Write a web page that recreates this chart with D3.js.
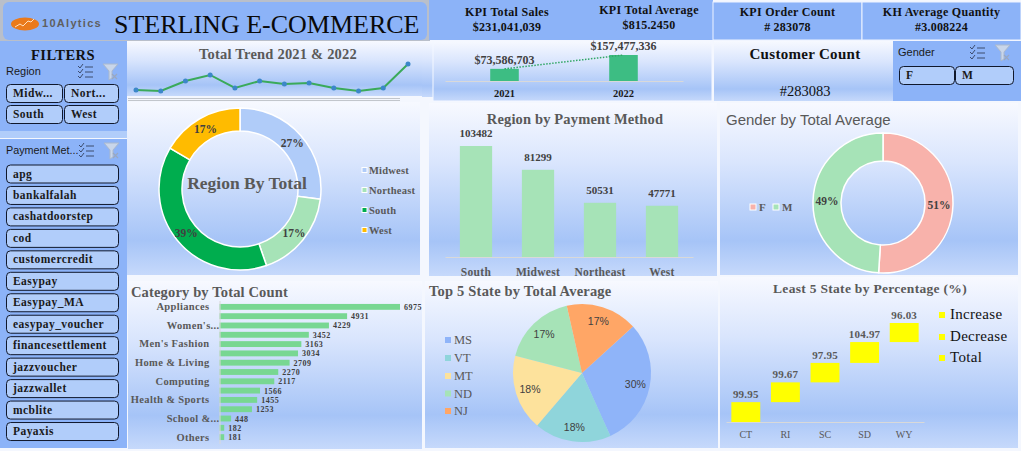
<!DOCTYPE html>
<html>
<head>
<meta charset="utf-8">
<title>Sterling E-Commerce</title>
<script src="https://cdn.jsdelivr.net/npm/d3@7"></script>
<style>
  html, body { margin: 0; padding: 0; background: #f4f7fe; overflow: hidden; }
  svg { display: block; }
  text { font-family: "Liberation Serif", serif; }
  .sans { font-family: "Liberation Sans", Arial, sans-serif; }
</style>
</head>
<body>
<div id="chart"></div>
<script>
'use strict';

// data
var kpiLabels = [ 'KPI Total Sales', 'KPI Total Average', 'KPI Order Count', 'KH Average Quantity' ];
var kpiValues = [ '$231,041,039', '$815.2450', '# 283078', '#3.008224' ];

var trendValues = [ 11.3, 10.0, 22.6, 30.2, 13.8, 22.6, 18.8, 20.1, 13.8, 10.0, 13.8, 44.0 ];

var yearLabels = [ '2021', '2022' ];
var yearValues = [ 73586703, 157477336 ];
var yearText = [ '$73,586,703', '$157,477,336' ];

var regionNames = [ 'Midwest', 'Northeast', 'South', 'West' ];
var regionShares = [ 27, 17.7, 38.7, 16.6 ];
var regionShareText = [ '27%', '17%', '39%', '17%' ];
var regionColors = [ '#b0ccf9', '#a6e3b7', '#00ad4e', '#ffbb00' ];

var paymentRegions = [ 'South', 'Midwest', 'Northeast', 'West' ];
var paymentValues = [ 103482, 81299, 50531, 47771 ];

var genderNames = [ 'F', 'M' ];
var genderShares = [ 51, 49 ];
var genderColors = [ '#f8b2ab', '#a6e3b7' ];

// the chart only prints every second category name
var categoryLabels = [ 'Appliances', '', 'Women\'s...', '', 'Men\'s Fashion', '', 'Home & Living', '',
  'Computing', '', 'Health & Sports', '', 'School &...', '', 'Others' ];
var categoryValues = [ 6975, 4931, 4229, 3452, 3163, 3034, 2709, 2270, 2117, 1566, 1455, 1253, 448, 182, 181 ];

var stateNames = [ 'MS', 'VT', 'MT', 'ND', 'NJ' ];
var stateShares = [ 30, 18, 17.8, 17.4, 16.8 ];
var stateShareText = [ '30%', '18%', '18%', '17%', '17%' ];
var stateColors = [ '#8fb4f9', '#8fd5db', '#fde29c', '#a6e3b7', '#ffa666' ];

var leastStates = [ 'CT', 'RI', 'SC', 'SD', 'WY' ];
var leastValues = [ 99.95, 99.67, 97.95, 104.97, 96.03 ];
var leastLegend = [ 'Increase', 'Decrease', 'Total' ];

var regionButtons = [ 'Midw...', 'Nort...', 'South', 'West' ];
var paymentButtons = [ 'apg', 'bankalfalah', 'cashatdoorstep', 'cod', 'customercredit', 'Easypay', 'Easypay_MA',
  'easypay_voucher', 'financesettlement', 'jazzvoucher', 'jazzwallet', 'mcblite', 'Payaxis' ];

var slicerBlue = '#8cb3f8',
    buttonBlue = '#b1cdfa',
    labelGray = '#595959';

var svg = d3.select( '#chart' )
  .append( 'svg' )
    .attr( 'width', 1021 )
    .attr( 'height', 451 );

var grad = svg.append( 'defs' )
  .append( 'linearGradient' )
    .attr( 'id', 'panelFill' )
    .attr( 'x1', 0 ).attr( 'y1', 0 )
    .attr( 'x2', 0 ).attr( 'y2', 1 );
grad.selectAll( 'stop' )
  .data( [ [ 0, '#f7f9ff' ], [ .35, '#d9e5fd' ], [ .8, '#a6c4f7' ], [ 1, '#c6d9fb' ] ] )
  .enter().append( 'stop' )
    .attr( 'offset', function( d ) { return d[0]; } )
    .attr( 'stop-color', function( d ) { return d[1]; } );

function panel( x, y, w, h, stroke ) {
  return svg.append( 'rect' )
    .attr( 'x', x ).attr( 'y', y )
    .attr( 'width', w ).attr( 'height', h )
    .attr( 'fill', 'url(#panelFill)' )
    .attr( 'stroke', stroke || 'none' );
}

function label( x, y, str, size, opts ) {
  opts = opts || {};
  return svg.append( 'text' )
    .attr( 'class', opts.sans ? 'sans' : null )
    .attr( 'x', x ).attr( 'y', y )
    .attr( 'text-anchor', opts.anchor || 'start' )
    .attr( 'font-size', size )
    .attr( 'font-weight', opts.weight || 'bold' )
    .attr( 'letter-spacing', opts.spacing || 0 )
    .attr( 'fill', opts.fill || labelGray )
    .text( str );
}

function button( x, y, w, h, str ) {
  svg.append( 'rect' )
    .attr( 'x', x + .5 ).attr( 'y', y + .5 )
    .attr( 'width', w ).attr( 'height', h )
    .attr( 'rx', 4 )
    .attr( 'fill', buttonBlue )
    .attr( 'stroke', '#10182c' );
  label( x + 7, y + h / 2 + 4, str, 11.5, { fill: '#1a1a1a', spacing: .45 } );
}

// little "select all" and "clear filter" glyphs of a slicer header
function slicerIcons( x, y ) {
  var g = svg.append( 'g' )
    .attr( 'transform', 'translate(' + x + ',' + y + ')' )
    .attr( 'fill', 'none' )
    .attr( 'stroke', '#33415e' )
    .attr( 'stroke-width', .9 );
  [ 1, 6, 11 ].forEach( function( dy ) {
    g.append( 'path' ).attr( 'd', 'M0 ' + dy + 'l2 2l3 -4' );
    g.append( 'path' ).attr( 'd', 'M7 ' + ( dy + 1 ) + 'h8' );
  } );
  svg.append( 'path' )
    .attr( 'transform', 'translate(' + ( x + 25 ) + ',' + y + ')' )
    .attr( 'd', 'M0 -1h15l-6 7v7l-3 2v-9z' )
    .attr( 'fill', '#c9d6ea' )
    .attr( 'stroke', '#aab8ce' );
  svg.append( 'path' )
    .attr( 'transform', 'translate(' + ( x + 25 ) + ',' + y + ')' )
    .attr( 'd', 'M9 9l5 5M14 9l-5 5' )
    .attr( 'stroke', '#9aa8c0' )
    .attr( 'stroke-width', 1.2 );
}

function legendDots( names, colors, xs, ys, size, opts ) {
  names.forEach( function( name, i ) {
    svg.append( 'rect' )
      .attr( 'x', xs[i] ).attr( 'y', ys[i] - size / 2 )
      .attr( 'width', size ).attr( 'height', size )
      .attr( 'fill', colors[i] )
      .attr( 'stroke', opts.stroke || 'none' );
    label( xs[i] + size + ( opts.gap || 2 ), ys[i] + 4, name, opts.size, opts );
  } );
}

// -- header and KPI tiles
svg.append( 'rect' ).attr( 'width', 430 ).attr( 'height', 42 ).attr( 'fill', '#b9bfca' );
svg.append( 'rect' )
  .attr( 'x', 3 ).attr( 'y', 2 )
  .attr( 'width', 424 ).attr( 'height', 38 )
  .attr( 'rx', 6 )
  .attr( 'fill', slicerBlue );
svg.append( 'ellipse' )
  .attr( 'cx', 25 ).attr( 'cy', 24 )
  .attr( 'rx', 14 ).attr( 'ry', 6.5 )
  .attr( 'fill', '#ea7a1c' );
svg.append( 'path' )
  .attr( 'd', 'M15 27l5 -3l3 2l5 -5l3 1l3 -3' )
  .attr( 'fill', 'none' )
  .attr( 'stroke', '#ffe1c2' )
  .attr( 'stroke-width', 1 );
label( 42, 27, '10Alytics', 11, { sans: true, fill: '#5f5f5f', spacing: 1.3 } );
label( 114, 33, 'STERLING E-COMMERCE', 26, { weight: 'normal', fill: '#0a0a0a' } );

var kpiBoxes = [ [ 429, 0, 156, 40 ], [ 585, 0, 128, 40 ], [ 713, 2, 149, 38 ], [ 862, 2, 159, 38 ] ];
kpiBoxes.forEach( function( b, i ) {
  svg.append( 'rect' )
    .attr( 'x', b[0] ).attr( 'y', b[1] )
    .attr( 'width', b[2] ).attr( 'height', b[3] )
    .attr( 'fill', slicerBlue )
    .attr( 'stroke', i < 2 ? 'none' : '#eef3ff' );
  var cx = b[0] + b[2] / 2;
  label( cx, i === 1 ? 14 : 16, kpiLabels[i], 12, { anchor: 'middle', fill: '#111', spacing: .3 } );
  label( cx, i === 1 ? 29 : 31, kpiValues[i], 12, { anchor: 'middle', fill: '#111', spacing: .2 } );
} );

// -- filters column
svg.append( 'rect' ).attr( 'x', 0 ).attr( 'y', 41 ).attr( 'width', 127 ).attr( 'height', 90 ).attr( 'fill', slicerBlue );
svg.append( 'rect' ).attr( 'x', 0 ).attr( 'y', 131 ).attr( 'width', 127 ).attr( 'height', 7 ).attr( 'fill', buttonBlue );
svg.append( 'rect' ).attr( 'x', 0 ).attr( 'y', 139 ).attr( 'width', 127 ).attr( 'height', 309 ).attr( 'fill', slicerBlue );
label( 63, 60, 'FILTERS', 14.5, { anchor: 'middle', fill: '#111', spacing: .5 } );
label( 6, 75, 'Region', 11, { sans: true, weight: 'normal', fill: '#1a1a1a' } );
slicerIcons( 78, 65 );
regionButtons.forEach( function( name, i ) {
  button( i % 2 ? 64 : 6, i < 2 ? 84 : 105, i % 2 ? 54 : 56, 18, name );
} );
label( 6, 154, 'Payment Met...', 10.8, { sans: true, weight: 'normal', fill: '#1a1a1a' } );
slicerIcons( 79, 144 );
paymentButtons.forEach( function( name, i ) {
  button( 6, 164.5 + i * 21.46, 112, 18, name );
} );

// -- total trend
panel( 422, 41, 11, 56 );
panel( 127, 41, 295, 55 );
svg.append( 'path' ).attr( 'd', 'M128 98.5h272M128 100.5h272' ).attr( 'stroke', '#c2c6cc' ).attr( 'fill', 'none' );
label( 278, 59, 'Total Trend 2021 & 2022', 14.5, { anchor: 'middle', spacing: .2 } );

var trendX = d3.scalePoint()
  .domain( d3.range( trendValues.length ) )
  .range( [ 136, 408 ] );
var trendY = d3.scaleLinear()
  .domain( [ 10, 44 ] )
  .range( [ 91, 64 ] );
svg.append( 'path' )
  .datum( trendValues )
  .attr( 'fill', 'none' )
  .attr( 'stroke', '#3aaa5a' )
  .attr( 'stroke-width', 2 )
  .attr( 'd', d3.line()
    .x( function( d, i ) { return trendX( i ); } )
    .y( function( d ) { return trendY( d ); } ) );
svg.selectAll( '.trend-dot' )
  .data( trendValues )
  .enter().append( 'circle' )
    .attr( 'class', 'trend-dot' )
    .attr( 'cx', function( d, i ) { return trendX( i ); } )
    .attr( 'cy', function( d ) { return trendY( d ); } )
    .attr( 'r', 2.5 )
    .attr( 'fill', '#3c87c9' );

// -- 2021 vs 2022
panel( 433, 41, 279, 60, '#f4f7ff' );
var yearX = d3.scaleBand()
  .domain( yearLabels )
  .range( [ 445, 683 ] )
  .paddingInner( .76 )
  .paddingOuter( .38 );
var yearY = d3.scaleLinear()
  .domain( [ 0, yearValues[1] ] )
  .range( [ 81, 55 ] );
var yearG = svg.append( 'g' );
yearG.selectAll( 'rect' )
  .data( yearValues )
  .enter().append( 'rect' )
    .attr( 'x', function( d, i ) { return yearX( yearLabels[i] ); } )
    .attr( 'y', function( d ) { return yearY( d ); } )
    .attr( 'width', yearX.bandwidth() )
    .attr( 'height', function( d ) { return yearY( 0 ) - yearY( d ); } )
    .attr( 'fill', '#3dbd83' );
yearG.append( 'path' )
  .datum( yearValues )
  .attr( 'fill', 'none' )
  .attr( 'stroke', '#31a765' )
  .attr( 'stroke-width', 1.5 )
  .attr( 'stroke-dasharray', '1.5 1.5' )
  .attr( 'd', d3.line()
    .x( function( d, i ) { return yearX( yearLabels[i] ) + yearX.bandwidth() / 2; } )
    .y( function( d ) { return yearY( d ); } ) );
yearText.forEach( function( t, i ) {
  label( yearX( yearLabels[i] ) + yearX.bandwidth() / 2, yearY( yearValues[i] ) - 5, t, 12, { anchor: 'middle', fill: '#404040' } );
} );
svg.append( 'g' )
  .attr( 'transform', 'translate(0,81)' )
  .call( d3.axisBottom( yearX ).tickSize( 0 ).tickPadding( 9 ) )
  .call( function( g ) {
    g.select( '.domain' ).attr( 'stroke', '#d9d9d9' );
    g.selectAll( 'text' )
      .attr( 'font-family', '"Liberation Serif", serif' )
      .attr( 'font-size', 10.5 )
      .attr( 'font-weight', 'bold' )
      .attr( 'fill', '#1a1a1a' );
  } );

// -- customer count and gender slicer
panel( 714, 41, 179, 60 );
label( 805, 59, 'Customer Count', 15, { anchor: 'middle', fill: '#111', spacing: .3 } );
label( 805, 96, '#283083', 14.5, { anchor: 'middle', fill: '#111', weight: 'normal' } );
svg.append( 'rect' ).attr( 'x', 893 ).attr( 'y', 41 ).attr( 'width', 128 ).attr( 'height', 60 ).attr( 'fill', slicerBlue );
label( 898, 56, 'Gender', 11, { sans: true, weight: 'normal', fill: '#1a1a1a' } );
slicerIcons( 970, 46 );
button( 899, 66, 55, 18, genderNames[0] );
button( 955, 66, 58, 18, genderNames[1] );

// -- donut helper
function drawRing( cx, cy, outer, inner, shares, colors, startDeg, stroke ) {
  var pie = d3.pie()
    .sort( null )
    .startAngle( startDeg * Math.PI / 180 )
    .endAngle( ( startDeg + 360 ) * Math.PI / 180 );
  var arcs = pie( shares );
  var arc = d3.arc().innerRadius( inner ).outerRadius( outer );
  var g = svg.append( 'g' ).attr( 'transform', 'translate(' + cx + ',' + cy + ')' );
  g.selectAll( 'path' )
    .data( arcs )
    .enter().append( 'path' )
      .attr( 'd', arc )
      .attr( 'fill', function( d, i ) { return colors[i]; } )
      .attr( 'stroke', stroke )
      .attr( 'stroke-width', stroke === 'none' ? 0 : 1.5 );
  return { g: g, arcs: arcs, arc: arc };
}

function ringLabels( ring, texts, size, opts ) {
  ring.g.selectAll( 'text' )
    .data( ring.arcs )
    .enter().append( 'text' )
      .attr( 'class', opts.sans ? 'sans' : null )
      .attr( 'transform', function( d ) { return 'translate(' + ring.arc.centroid( d ) + ')'; } )
      .attr( 'text-anchor', 'middle' )
      .attr( 'dy', '.35em' )
      .attr( 'font-size', size )
      .attr( 'font-weight', opts.weight || 'bold' )
      .attr( 'fill', '#404040' )
      .text( function( d, i ) { return texts[i]; } );
}

// -- region donut
panel( 127, 102, 293, 173 );
var regionRing = drawRing( 240, 189, 81, 58, regionShares, regionColors, 0, '#ffffff' );
ringLabels( regionRing, regionShareText, 11.5, {} );
label( 247, 189, 'Region By Total', 17.5, { anchor: 'middle' } );
legendDots( regionNames, regionColors, [ 362, 362, 362, 362 ], [ 170, 190, 210, 230 ], 5, { size: 10.5, stroke: '#ffffff', gap: 2, spacing: .2 } );

// -- region by payment method
panel( 429, 103, 288, 173 );
label( 575, 124, 'Region by Payment Method', 14.5, { anchor: 'middle', spacing: .15 } );
var payX = d3.scaleBand()
  .domain( paymentRegions )
  .range( [ 445, 693 ] )
  .paddingInner( .48 )
  .paddingOuter( .24 );
var payY = d3.scaleLinear()
  .domain( [ 0, paymentValues[0] ] )
  .range( [ 257, 146 ] );
svg.selectAll( '.pay-bar' )
  .data( paymentValues )
  .enter().append( 'rect' )
    .attr( 'class', 'pay-bar' )
    .attr( 'x', function( d, i ) { return payX( paymentRegions[i] ); } )
    .attr( 'y', function( d ) { return payY( d ); } )
    .attr( 'width', payX.bandwidth() )
    .attr( 'height', function( d ) { return payY( 0 ) - payY( d ); } )
    .attr( 'fill', '#a6e3b7' );
paymentValues.forEach( function( v, i ) {
  label( payX( paymentRegions[i] ) + payX.bandwidth() / 2, payY( v ) - 9, v, 11, { anchor: 'middle', fill: '#404040' } );
} );
svg.append( 'g' )
  .attr( 'transform', 'translate(0,257)' )
  .call( d3.axisBottom( payX ).tickSize( 0 ).tickPadding( 11 ) )
  .call( function( g ) {
    g.select( '.domain' ).attr( 'stroke', '#d9d9d9' );
    g.selectAll( 'text' )
      .attr( 'font-family', '"Liberation Serif", serif' )
      .attr( 'font-size', 11.5 )
      .attr( 'font-weight', 'bold' )
      .attr( 'letter-spacing', .3 )
      .attr( 'fill', labelGray );
  } );

// -- gender donut
panel( 720, 103, 298, 172 );
label( 726, 125, 'Gender by Total Average', 15, { sans: true, weight: 'normal' } );
var genderRing = drawRing( 883, 203, 70, 42, genderShares, genderColors, 0, '#ffffff' );
ringLabels( genderRing, [ '51%', '49%' ], 11.5, {} );
legendDots( genderNames, genderColors, [ 750, 773 ], [ 207, 207 ], 6, { size: 11, stroke: '#ffffff', gap: 3 } );

// -- category bars
panel( 128, 281, 294, 168 );
label( 131, 297, 'Category by Total Count', 14.5, { spacing: .15 } );
var catIndex = d3.range( categoryValues.length );
var catY = d3.scaleBand()
  .domain( catIndex )
  .range( [ 300.5, 443.5 ] )
  .padding( .37 );
var catX = d3.scaleLinear()
  .domain( [ 0, 6975 ] )
  .range( [ 219.5, 400 ] );
svg.selectAll( '.cat-bar' )
  .data( categoryValues )
  .enter().append( 'rect' )
    .attr( 'class', 'cat-bar' )
    .attr( 'x', catX( 0 ) )
    .attr( 'y', function( d, i ) { return catY( i ); } )
    .attr( 'width', function( d ) { return catX( d ) - catX( 0 ); } )
    .attr( 'height', catY.bandwidth() )
    .attr( 'fill', '#78d792' );
categoryValues.forEach( function( v, i ) {
  label( catX( v ) + 4, catY( i ) + catY.bandwidth() / 2 + 3, v, 8, { fill: '#404040', spacing: .5 } );
} );
svg.append( 'g' )
  .attr( 'transform', 'translate(219.5,0)' )
  .call( d3.axisLeft( catY ).tickSize( 0 ).tickPadding( 10 )
    .tickFormat( function( i ) { return categoryLabels[i]; } ) )
  .call( function( g ) {
    g.select( '.domain' ).attr( 'stroke', '#d9d9d9' );
    g.selectAll( 'text' )
      .attr( 'font-family', '"Liberation Serif", serif' )
      .attr( 'font-size', 10.5 )
      .attr( 'font-weight', 'bold' )
      .attr( 'letter-spacing', .35 )
      // truncated names run right up to the axis line
      .attr( 'dx', function( i ) { return /\.\.\.$/.test( categoryLabels[i] ) ? 10 : 0; } )
      .attr( 'fill', labelGray );
  } );

// -- top 5 states pie
panel( 425, 281, 293, 167 );
label( 429, 296, 'Top 5 State by Total Average', 14.5, { spacing: .2 } );
var stateRing = drawRing( 582, 373, 69, 0, stateShares, stateColors, 47.7, 'none' );
stateRing.arc = d3.arc().innerRadius( 40 ).outerRadius( 69 );
ringLabels( stateRing, stateShareText, 10.5, { sans: true, weight: 'normal' } );
legendDots( stateNames, stateColors, [ 445, 445, 445, 445, 445 ], [ 340, 358, 376, 393.5, 411 ], 6, { size: 12.5, weight: 'normal', gap: 3 } );

// -- least 5 states waterfall
panel( 720, 277, 298, 171 );
label( 870, 293, 'Least 5 State by Percentage (%)', 13.5, { anchor: 'middle', spacing: .3 } );
var leastX = d3.scaleBand()
  .domain( leastStates )
  .range( [ 726, 924 ] )
  .paddingInner( .27 )
  .paddingOuter( .135 );
var leastEnds = d3.cumsum( leastValues );
var leastY = d3.scaleLinear()
  .domain( [ 0, leastEnds[4] ] )
  .range( [ 422, 323 ] );
svg.selectAll( '.least-bar' )
  .data( leastValues )
  .enter().append( 'rect' )
    .attr( 'class', 'least-bar' )
    .attr( 'x', function( d, i ) { return leastX( leastStates[i] ); } )
    .attr( 'y', function( d, i ) { return leastY( leastEnds[i] ); } )
    .attr( 'width', leastX.bandwidth() )
    .attr( 'height', function( d ) { return leastY( 0 ) - leastY( d ); } )
    .attr( 'fill', '#ffff00' );
leastValues.forEach( function( v, i ) {
  label( leastX( leastStates[i] ) + leastX.bandwidth() / 2, leastY( leastEnds[i] ) - 4, v, 11, { anchor: 'middle', spacing: .2 } );
} );
svg.append( 'g' )
  .attr( 'transform', 'translate(0,422)' )
  .call( d3.axisBottom( leastX ).tickSize( 0 ).tickPadding( 9 ) )
  .call( function( g ) {
    g.select( '.domain' ).attr( 'stroke', '#d9d9d9' );
    g.selectAll( 'text' )
      .attr( 'font-family', '"Liberation Sans", Arial, sans-serif' )
      .attr( 'font-size', 10 )
      .attr( 'fill', labelGray );
  } );
legendDots( leastLegend, [ '#ffff00', '#ffff00', '#ffff00' ], [ 939, 939, 939 ], [ 315, 337, 358 ], 6, { size: 15, weight: 'normal', fill: '#111', gap: 5, spacing: .3 } );
</script>
</body>
</html>
